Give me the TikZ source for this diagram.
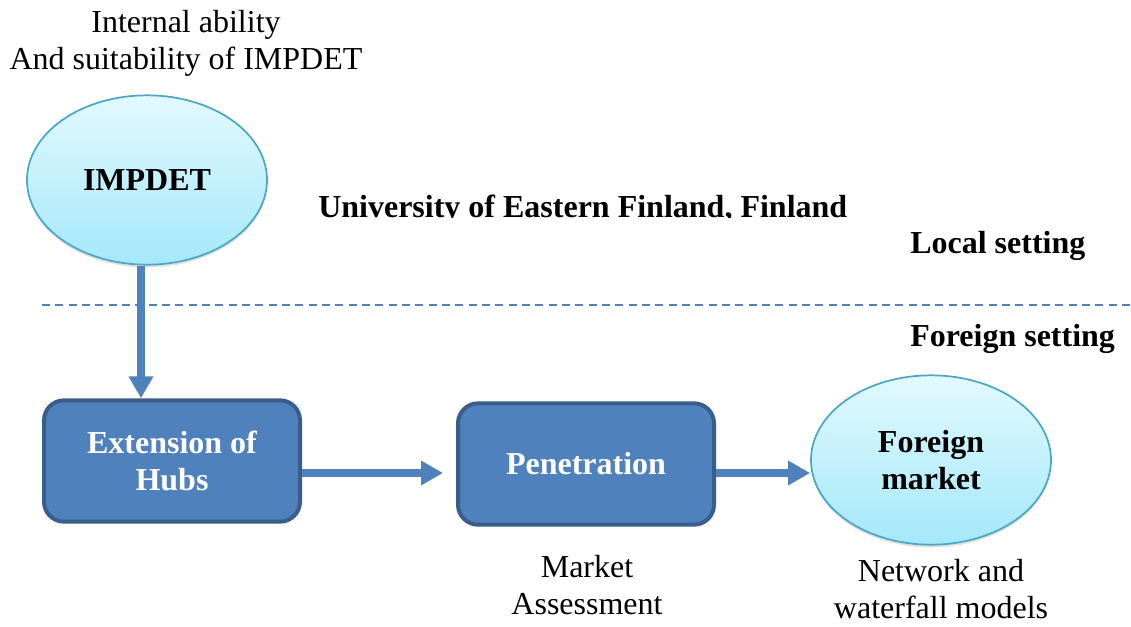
\documentclass[tikz,border=0pt]{standalone}
\usepackage{fontspec}
\setmainfont{Liberation Serif}
\usetikzlibrary{arrows.meta,shapes.geometric,shadows}
\definecolor{arrowblue}{RGB}{79,129,189}
\definecolor{boxfill}{RGB}{79,129,189}
\definecolor{boxdraw}{RGB}{57,94,139}
\definecolor{elltop}{RGB}{226,249,254}
\definecolor{ellbot}{RGB}{164,232,250}
\definecolor{elldraw}{RGB}{75,168,196}
\tikzset{
  big/.style={font=\fontsize{24}{27.75}\selectfont, align=center, inner sep=0pt},
  bigbold/.style={big, font=\fontsize{24}{27.75}\selectfont\bfseries},
  ellnode/.style={ellipse, draw=elldraw, line width=1.3pt, top color=elltop, bottom color=ellbot,
    minimum width=180pt, minimum height=127pt, inner sep=0pt,
    drop shadow={shadow xshift=0pt, shadow yshift=-2pt, opacity=0.25}},
  boxnode/.style={rectangle, rounded corners=15pt, draw=boxdraw, line width=3pt, fill=boxfill,
    minimum width=192pt, minimum height=91pt, inner sep=0pt, text=white},
  flowarrow/.style={draw=arrowblue, line width=6pt, -{Triangle[width=17.5pt,length=16.5pt]}},
}
\begin{document}
\begin{tikzpicture}[x=0.75pt,y=-0.75pt]
\useasboundingbox (0,0) rectangle (1131,626);
% header text
\node[big] (internal) at (186,43) {Internal ability\\And suitability of IMPDET};
% IMPDET ellipse
\node[ellnode, bigbold] (impdet) at (147,180) {IMPDET};
% university text (clipped at its baseline)
\begin{scope}
\clip (300,180) rectangle (900,217.5);
\node[bigbold, anchor=base west] (uef) at (318,217.5) {University of Eastern Finland, Finland};
\end{scope}
\node[bigbold, anchor=base west] (local) at (910,253) {Local setting};
\node[bigbold, anchor=base west] (foreignset) at (910,346) {Foreign setting};
% divider
\coordinate (divL) at (42,305);
\coordinate (divR) at (1131,305);
\draw[arrowblue, line width=1.5pt, dash pattern=on 6pt off 4pt] (divL) -- (divR);
% boxes
\node[boxnode, bigbold, text=white] (hubs) at (172,461) {Extension of\\Hubs};
\node[boxnode, bigbold, text=white] (pen) at (586,464) {Penetration};
\node[ellnode, bigbold] (fm) at (931,460) {Foreign\\market};
% arrows
\draw[flowarrow] (impdet.south -| 141,0) -- (hubs.north -| 141,0);
\coordinate (a2s) at (300,473);
\coordinate (a2e) at (443,473);
\draw[flowarrow] (hubs.east |- a2s) -- (a2e);
\draw[flowarrow] (pen.east |- a2s) -- (fm.west |- a2s);
% bottom labels
\node[big] (assess) at (587,585) {Market\\Assessment};
\node[big] (network) at (941,589) {Network and\\waterfall models};
\end{tikzpicture}
\end{document}
